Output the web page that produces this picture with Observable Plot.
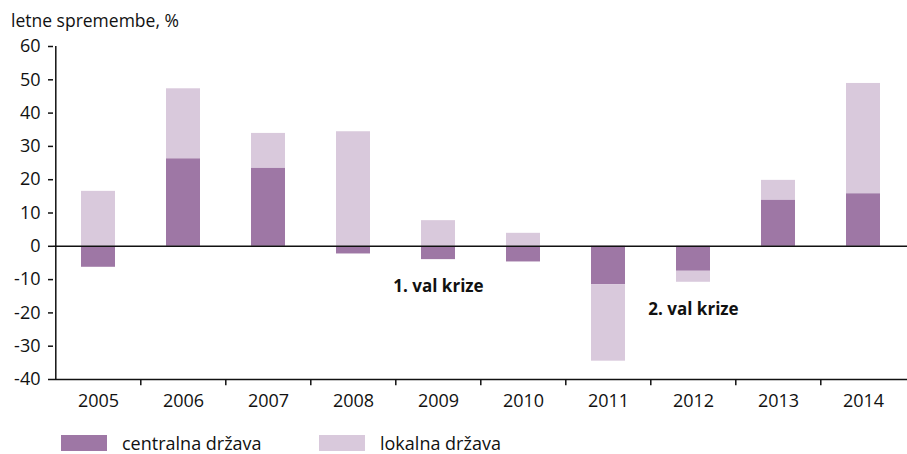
<!DOCTYPE html>
<html>
<head>
<meta charset="utf-8">
<script src="https://cdn.jsdelivr.net/npm/d3@7"></script>
<script src="https://cdn.jsdelivr.net/npm/@observablehq/plot@0.6"></script>
<style>
  body { margin: 0; background: #fff; font-family: "Open Sans", sans-serif; }
  #wrap { position: relative; width: 907px; height: 454px; overflow: hidden; }
  #title { position: absolute; left: 11px; top: 8px; font-size: 17.5px; color: #111; }
  .leg { position: absolute; top: 434px; height: 18px; line-height: 18px; font-size: 18px; color: #111; display: flex; align-items: center; }
  .sw { width: 46px; height: 16px; margin-right: 15px; }
</style>
</head>
<body>
<div id="wrap">
  <div id="chart"></div>
  <div id="title">letne spremembe, %</div>
  <div class="leg" style="left:61px"><span class="sw" style="background:#9e77a5"></span>centralna država</div>
  <div class="leg" style="left:319px"><span class="sw" style="background:#d9c9dc"></span>lokalna država</div>
</div>
<script>
const years = ["2005","2006","2007","2008","2009","2010","2011","2012","2013","2014"];
const centralValues = [-6.3, 26.3, 23.5, -2.3, -4.0, -4.7, -11.5, -7.5, 13.9, 15.8];
const localValues = [16.5, 21.0, 10.4, 34.4, 7.7, 3.9, -23.0, -3.3, 5.9, 33.1];
const seriesNames = ["centralna država", "lokalna država"];
const seriesColors = ["#9e77a5", "#d9c9dc"];
const yTicks = [-40, -30, -20, -10, 0, 10, 20, 30, 40, 50, 60];
const annotations = [
  {label: "1. val krize", year: "2009", value: -12},
  {label: "2. val krize", year: "2012", value: -19}
];

const rows = [];
years.forEach((y, i) => {
  rows.push({year: y, series: seriesNames[0], value: centralValues[i]});
  rows.push({year: y, series: seriesNames[1], value: localValues[i]});
});

const W = 907, H = 454, mL = 53, mR = 0, mT = 46, mB = 75;
const step = (W - mL - mR) / years.length;

const chart = Plot.plot({
  width: W,
  height: H,
  marginLeft: mL,
  marginRight: mR,
  marginTop: mT,
  marginBottom: mB,
  style: {fontFamily: "Open Sans, sans-serif", fontSize: "18px", color: "#111", background: "#fff", overflow: "visible"},
  x: {domain: years, paddingInner: 0.6, paddingOuter: 0.3, label: null},
  y: {domain: [-40, 60], label: null},
  color: {domain: seriesNames, range: seriesColors},
  marks: [
    Plot.barY(rows, {x: "year", y: "value", fill: "series", z: "series", order: seriesNames}),
    Plot.ruleY([0], {stroke: "#111", strokeWidth: 1.5}),
    Plot.ruleX([years[0]], {dx: -step / 2, y1: -40, y2: 60, stroke: "#111", strokeWidth: 1.5}),
    Plot.ruleY([-40], {stroke: "#111", strokeWidth: 1.5}),
    Plot.ruleX(years.slice(1), {x: d => d, dx: -step / 2, y1: -40, y2: -41.9, stroke: "#111", strokeWidth: 1.5, clip: false}),
    Plot.axisY({ticks: yTicks, tickSize: 5, tickPadding: 8, tickFormat: d => String(d), stroke: "#111", strokeWidth: 1.5, fontSize: 18}),
    Plot.axisX({tickSize: 0, tickPadding: 15, fontSize: 18}),
    Plot.text(annotations, {x: "year", y: "value", text: "label", fontWeight: "bold", fontSize: 17, fill: "#111"})
  ]
});
document.getElementById("chart").appendChild(chart);
</script>
</body>
</html>
